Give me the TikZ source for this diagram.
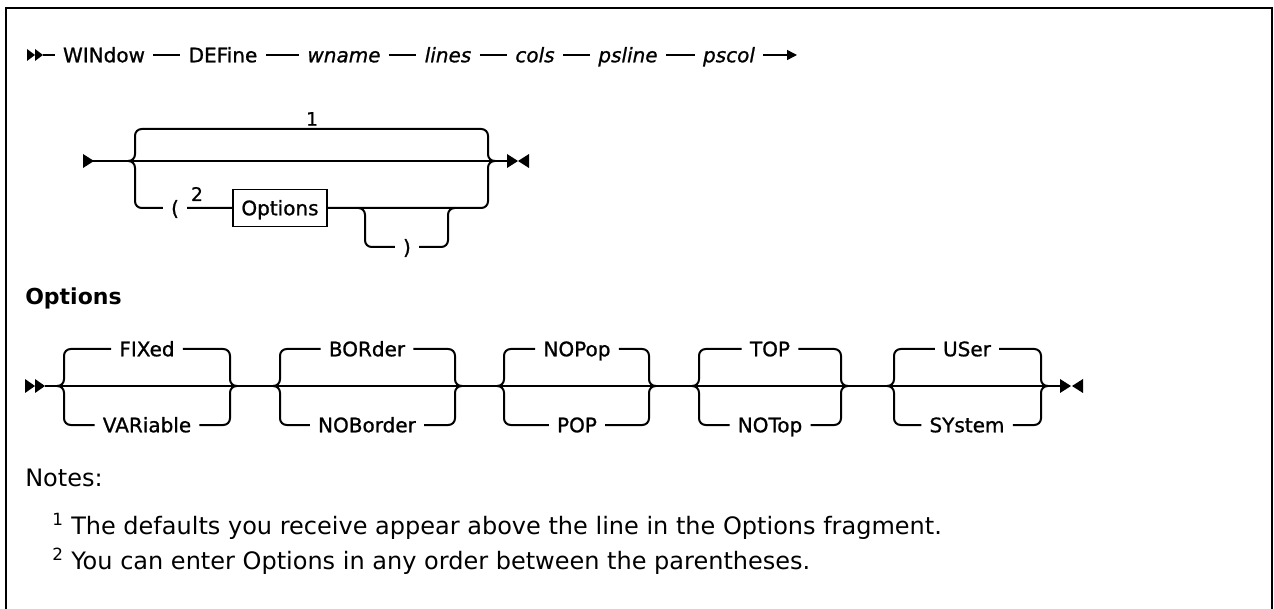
\documentclass[tikz,border=0pt]{standalone}
\usepackage{fontspec}
\setmainfont{DejaVu Sans}
\newfontfamily\kwfont[FakeBold=1]{DejaVu Sans}
\usetikzlibrary{arrows.meta}

\tikzset{
  rail/.style={line width=1.5pt, rounded corners=5pt},
  seqline/.style={line width=1.1pt},
  kw/.style={font=\fontsize{15}{18}\kwfont, inner xsep=6pt, inner ysep=0pt,
    text height=10.9pt, text depth=0pt},
  var/.style={kw, font=\fontsize{15}{18}\kwfont\itshape},
  optbox/.style={kw, draw, line width=1.2pt, minimum width=70.5pt, minimum height=27.75pt},
  fn/.style={font=\fontsize{14}{14}\kwfont, inner sep=0pt},
  note/.style={font=\fontsize{18}{18}\selectfont, anchor=base west, inner sep=0pt}
}

\begin{document}
\begin{tikzpicture}[x=0.75pt, y=-0.75pt]
\useasboundingbox (0,0) rectangle (1274,609);
% frame
\draw[line width=1.6pt] (6,609) -- (6,8) -- (1272,8) -- (1272,609);

% WINdow DEFine statement
\fill (27,49) -- (35,55) -- (27,61) -- cycle;
\fill (35,49) -- (43,55) -- (35,61) -- cycle;
\coordinate (s0) at (43,55);
\node[kw] (win) at (104,55) {WINdow};
\node[kw] (def) at (223,55) {DEFine};
\node[var] (wn) at (344,55) {wname};
\node[var] (ln) at (448,55) {lines};
\node[var] (cl) at (535,55) {cols};
\node[var] (psl) at (628,55) {psline};
\node[var] (psc) at (729,55) {pscol};
\coordinate (s1) at (797,55);
\draw[seqline] (s0) -- (win) -- (def) -- (wn) -- (ln) -- (cl) -- (psl) -- (psc);
\draw[seqline, -{Triangle[length=7.5pt, width=7.5pt]}] (psc) -- (s1);

% options fragment call
\fill (83,154) -- (94,161) -- (83,168) -- cycle;
\coordinate (fs) at (93,161);
\coordinate (fjl) at (128,161);
\coordinate (fjr) at (495,161);
\coordinate (fe) at (507,161);
\node[fn, anchor=south] (n1) at (312,126) {1};
\node[kw] (lp) at (175,208) {(};
\node[fn] (n2) at (197,194) {2};
\node[optbox] (opt) at (280,208) {Options};
\node[kw] (rp) at (407,247) {)};
\coordinate (ijl) at (358,208);
\coordinate (ijr) at (455,208);
\draw[rail] (fs) -- (fe);
\draw[rail] (fjl) -| (135,129) -| (488,161) -- (fjr);
\draw[rail] (fjl) -| (135,208) -- (lp) -- (opt) -| (488,161) -- (fjr);
\draw[rail] (ijl) -| (365,247) -- (rp) -| (448,208) -- (ijr);
\fill (507,154) -- (518,161) -- (507,168) -- cycle;
\fill (529,154) -- (518,161) -- (529,168) -- cycle;

% Options fragment
\node[font=\fontsize{16.5}{18}\selectfont\bfseries, anchor=base west, inner sep=0pt] (hd) at (25,305) {Options};
\fill (25,379) -- (35,386) -- (25,393) -- cycle;
\fill (35,379) -- (45,386) -- (35,393) -- cycle;
\coordinate (os) at (45,386);
\coordinate (oe) at (1060,386);
\draw[rail] (os) -- (oe);
\node[kw] (fix) at (147,349) {FIXed};
\node[kw] (var) at (147,425) {VARiable};
\draw[rail] (57,386) -| (64,349) -- (fix) -| (230,386) -- (237,386);
\draw[rail] (57,386) -| (64,425) -- (var) -| (230,386) -- (237,386);
\node[kw] (bor) at (367,349) {BORder};
\node[kw] (nob) at (367,425) {NOBorder};
\draw[rail] (273,386) -| (280,349) -- (bor) -| (455,386) -- (462,386);
\draw[rail] (273,386) -| (280,425) -- (nob) -| (455,386) -- (462,386);
\node[kw] (nop) at (577,349) {NOPop};
\node[kw] (pop) at (577,425) {POP};
\draw[rail] (497,386) -| (504,349) -- (nop) -| (649,386) -- (656,386);
\draw[rail] (497,386) -| (504,425) -- (pop) -| (649,386) -- (656,386);
\node[kw] (top) at (770,349) {TOP};
\node[kw] (not) at (770,425) {NOTop};
\draw[rail] (692,386) -| (699,349) -- (top) -| (841,386) -- (848,386);
\draw[rail] (692,386) -| (699,425) -- (not) -| (841,386) -- (848,386);
\node[kw] (usr) at (967,349) {USer};
\node[kw] (sys) at (967,425) {SYstem};
\draw[rail] (887,386) -| (894,349) -- (usr) -| (1041,386) -- (1048,386);
\draw[rail] (887,386) -| (894,425) -- (sys) -| (1041,386) -- (1048,386);
\fill (1060,379) -- (1071,386) -- (1060,393) -- cycle;
\fill (1083,379) -- (1072,386) -- (1083,393) -- cycle;

% notes
\node[note] (nt) at (25,486) {Notes:};
\node[note] (nt1) at (52,534) {\textsuperscript{1} The defaults you receive appear above the line in the Options fragment.};
\node[note] (nt2) at (52,569) {\textsuperscript{2} You can enter Options in any order between the parentheses.};
\end{tikzpicture}
\end{document}
